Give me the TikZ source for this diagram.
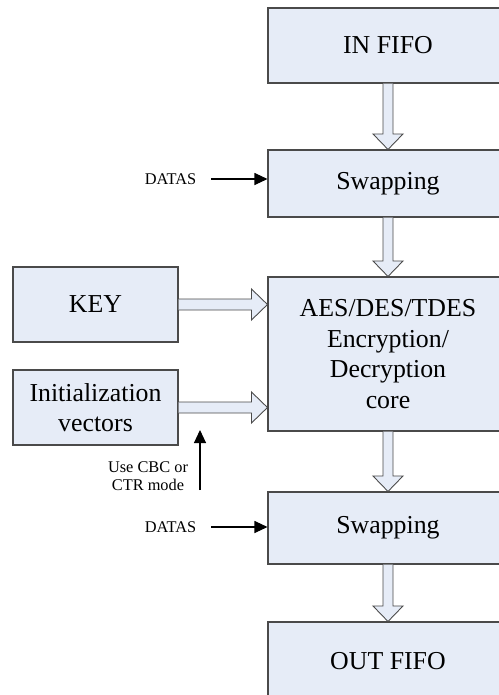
\documentclass[tikz,border=0pt]{standalone}
\usepackage{fontspec}
\setmainfont{Liberation Serif}
\usetikzlibrary{arrows.meta, positioning, calc}
\definecolor{boxfill}{HTML}{E6ECF7}
\definecolor{boxline}{HTML}{4A4A4A}

% hollow block arrows between two named nodes
\newcommand{\flowdown}[2]{%
  \draw[hollow] ($(#1.south)+(-0.1,0)$) -- ($(#2.north)+(-0.1,0.31)$)
    -- ($(#2.north)+(-0.3,0.31)$) -- (#2.north) -- ($(#2.north)+(0.3,0.31)$)
    -- ($(#2.north)+(0.1,0.31)$) -- ($(#1.south)+(0.1,0)$);}
\newcommand{\flowright}[2]{%
  \draw[hollow] ($(#1.east)+(0,0.11)$) -- ($(#2.west |- #1.east)+(-0.32,0.11)$)
    -- ($(#2.west |- #1.east)+(-0.32,0.31)$) -- (#2.west |- #1.east)
    -- ($(#2.west |- #1.east)+(-0.32,-0.31)$) -- ($(#2.west |- #1.east)+(-0.32,-0.11)$)
    -- ($(#1.east)+(0,-0.11)$);}

\begin{document}
\begin{tikzpicture}[
    every node/.style={font=\fontsize{14.7}{17.3}\selectfont},
    block/.style={rectangle, draw=boxline, fill=boxfill, line width=0.6pt,
                  minimum width=4.8cm, align=center, inner sep=0pt},
    side/.style={block, minimum width=3.3cm, minimum height=1.5cm},
    hollow/.style={draw=boxline, fill=boxfill, line width=0.5pt, line join=miter},
    note/.style={font=\fontsize{9.3}{10.4}\selectfont, align=center},
    sig/.style={-{Triangle[length=0.26cm, width=0.24cm]}, line width=0.6pt}
]
    \useasboundingbox (0,0) rectangle (9.98,-13.9);
    \clip (0,0) rectangle (9.98,-13.9);

    \node[block, minimum height=1.5cm]  (infifo)  at (7.76,-0.91)  {IN FIFO};
    \node[block, minimum height=1.34cm] (swapin)  at (7.76,-3.67)  {Swapping};
    \node[block, minimum height=3.08cm] (core)    at (7.76,-7.08)
        {AES/DES/TDES\\Encryption/\\Decryption\\core};
    \node[block, minimum height=1.44cm] (swapout) at (7.76,-10.56) {Swapping};
    \node[block, minimum height=1.56cm] (outfifo) at (7.76,-13.22) {OUT FIFO};

    \node[side] (key) at (1.91,-6.09) {KEY};
    \node[side] (iv)  at (1.91,-8.15) {Initialization\\vectors};

    \flowdown{infifo}{swapin}
    \flowdown{swapin}{core}
    \flowdown{core}{swapout}
    \flowdown{swapout}{outfifo}
    \flowright{key}{core}
    \flowright{iv}{core}

    % side inputs
    \node[note] (datain)  at (3.41,-3.58)  {DATAS};
    \node[note] (dataout) at (3.41,-10.54) {DATAS};
    \draw[sig] ($(datain.east)+(0.18,0)$) -- (swapin.west |- datain.east);
    \draw[sig] ($(dataout.east)+(0.18,0)$) -- (swapout.west |- dataout.east);

    \node[note] (mode) at (2.96,-9.52) {Use CBC or\\CTR mode};
    \coordinate (modefoot) at (4.0,-9.8);
    \coordinate (modetip)  at (4.0,-8.6);
    \draw[sig] (modefoot) -- (modetip);
\end{tikzpicture}
\end{document}
